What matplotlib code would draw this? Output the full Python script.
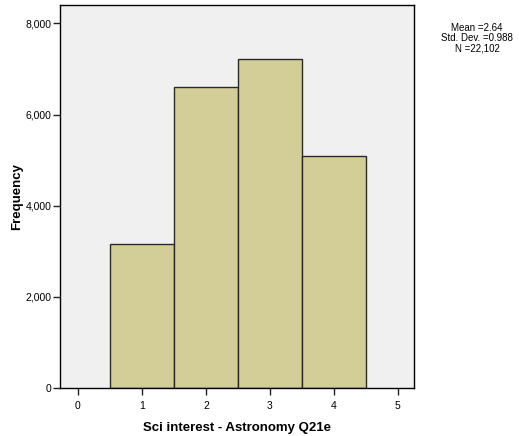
import numpy as np
import matplotlib
matplotlib.use("Agg")
import matplotlib.pyplot as plt

plt.rcParams['font.family'] = ['Liberation Sans', 'DejaVu Sans']

# histogram data (bin centers and counts)
categories = [1, 2, 3, 4]
counts = [3165, 6615, 7220, 5102]
xticks = [0, 1, 2, 3, 4, 5]
yticks = [0, 2000, 4000, 6000, 8000]
stats_text = "Mean =2.64\nStd. Dev. =0.988\nN =22,102"

fig = plt.figure(figsize=(5.19, 4.36), dpi=100)
ax = fig.add_axes([0.1156, 0.110, 0.682, 0.878])
ax.set_facecolor('#F0F0F0')

ax.bar(categories, counts, width=1.0, color='#D3CE97', edgecolor='#2a2a2a', linewidth=1.0)

ax.set_xlim(-0.28, 5.25)
ax.set_ylim(0, 8400)
ax.set_xticks(xticks)
ax.set_yticks(yticks)
ax.set_yticklabels([f"{v:,}" for v in yticks])
ax.tick_params(axis='both', labelsize=7.5, length=5, width=1, direction='out', color='#222222')
ax.tick_params(axis='y', pad=1)
ax.tick_params(axis='x', pad=4)
for s in ax.spines.values():
    s.set_linewidth(1)

ax.set_xlabel("Sci interest - Astronomy Q21e", fontsize=9.5, fontweight='bold', labelpad=8)
ax.set_ylabel("Frequency", fontsize=9.5, fontweight='bold')
ax.yaxis.set_label_coords(-0.105, 0.5)

fig.text(0.919, 0.947, stats_text, ha='center', va='top', fontsize=7, linespacing=1.0)

fig.savefig("out.png", dpi=100)
